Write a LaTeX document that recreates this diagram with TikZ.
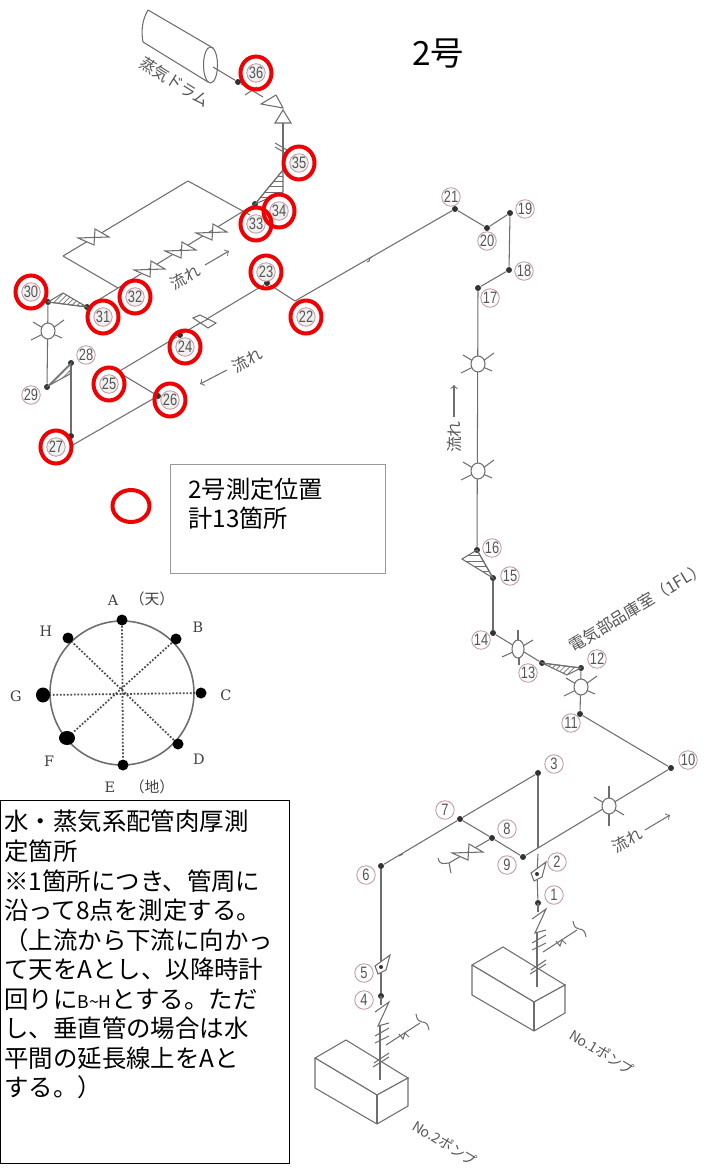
\documentclass[tikz,border=0pt]{standalone}
\usepackage{fontspec}
\setmainfont{Liberation Sans}
\newfontfamily\jpfont{Noto Sans CJK JP}
\newfontfamily\numfont[FakeStretch=0.78]{Liberation Sans}
\newfontfamily\dialfont{DejaVu Serif}
\usetikzlibrary{shapes.geometric,patterns}
\definecolor{pipegray}{HTML}{6E6E6E}
\definecolor{textgray}{HTML}{555555}
\definecolor{numpink}{HTML}{C49AA2}
\definecolor{ringred}{HTML}{F00000}
\tikzset{
  pipe/.style={draw=pipegray, line width=0.6pt},
  pipedot/.style={circle, fill=black!80, inner sep=0pt, minimum size=0.12cm},
  numlabel/.style={circle, draw=numpink, fill=white, line width=0.5pt, inner sep=0pt, minimum size=0.37cm, text=textgray, font=\numfont\fontsize{9.4}{9.4}\selectfont},
  redring/.style={ellipse, draw=ringred, line width=0.08cm, inner sep=0pt, minimum width=0.62cm, minimum height=0.66cm},
  ringnum/.style={numlabel, fill=black!6},
  drawn/.style={text=textgray, font=\jpfont\fontsize{9}{9}\selectfont},
  dialdot/.style={circle, fill=black, inner sep=0pt, minimum size=0.22cm},
  dialtext/.style={text=black!75, font=\dialfont\fontsize{8.2}{8.2}\selectfont},
  xvalve/.pic={\draw[pipe, fill=white] (-16,1) -- (0,8) -- (1,-8) -- (15,0) -- cycle;},
  wheela/.pic={
    \draw[pipe] (-5,-3) -- (-15,-9);
    \draw[pipe] (5,-3) -- (16,-11);
    \draw[pipe] (-5,3) -- (-17,9);
    \draw[pipe] (5,3) -- (14,7);
    \draw[pipe, fill=white] (0,0) ellipse (7 and 8);
  },
  wheelb/.pic={
    \draw[pipe] (0,-5) -- (0,-20);
    \draw[pipe] (-5,-3) -- (-15,-9);
    \draw[pipe] (5,3) -- (15,9);
    \draw[pipe] (0,5) -- (0,20);
    \draw[pipe, fill=white] (0,0) ellipse (7 and 8);
  },
  wheelc/.pic={
    \draw[pipe] (0,-5) -- (0,-19);
    \draw[pipe] (5,-3) -- (15,-9);
    \draw[pipe] (-5,3) -- (-16,8);
    \draw[pipe] (1,5) -- (1,16);
    \draw[pipe, fill=white] (0,0) ellipse (6 and 9);
  },
  kite/.pic={\draw[pipe, fill=white] (-6,-1) -- (9,-12) -- (5,3) -- (-3,7) -- cycle;},
  pumpset/.pic={
    \draw[pipe, fill=white] (-35,44) -- (27,82) -- (-4,99) -- (-66,62) -- cycle;
    \draw[pipe, fill=white] (-66,62) -- (-66,92) -- (-4,128) -- (27,110) -- (27,82) -- (-4,99) -- (-66,62);
    \draw[pipe] (-4,99) -- (-4,128);
    \draw[pipe] (0,0) -- (0,9);
    \draw[pipe] (-6,16) -- (8,6) -- (-3,30) -- (8,27);
    \draw[pipe] (-1,29) -- (-1,84);
    \draw[pipe] (-6,40) -- (8,32);
    \draw[pipe] (-6,47) -- (8,40);
    \draw[pipe] (-7,67) -- (8,57);
    \draw[pipe] (-8,71) -- (8,61);
    \draw[pipe] (5,49) -- (39,27);
    \draw[pipe] (18,38) -- (22,43) -- (24,37) -- (28,41);
    \draw[pipe] (35,18) .. controls (36,24) and (38,26) .. (41,26) .. controls (45,26) and (47,28) .. (48,34);
  },
}
\begin{document}
\begin{tikzpicture}[x=0.02cm, y=-0.02cm]
  \useasboundingbox (0,0) rectangle (704,1168);

  \node[drawn, font=\jpfont\fontsize{19}{19}\selectfont, text=black] (title) at (438,54) {2号};

  \coordinate (drumend) at (213,67);
  \coordinate (bendin) at (263,97);
  \coordinate (bendout) at (283,123);
  \coordinate (c34) at (283,170);
  \coordinate (loopa) at (118,288);
  \coordinate (loopb) at (63,256);
  \coordinate (loopc) at (188,181);
  \coordinate (loopd) at (250,215);
  \coordinate (c25) at (118,372);
  \coordinate (c27) at (71,446);
  \coordinate (c22) at (295,301);
  \coordinate (gapa) at (538,848);
  \coordinate (gapb) at (538,854);
  \coordinate (hookv) at (449,863);

  \node[pipedot] (pt1) at (538,903) {};
  \node[pipedot, minimum size=0.08cm] (pt2) at (537,874) {};
  \node[pipedot] (pt3) at (538,773) {};
  \node[pipedot] (pt4) at (381,996) {};
  \node[pipedot, minimum size=0.08cm] (pt5) at (381,967) {};
  \node[pipedot] (pt6) at (381,866) {};
  \node[pipedot] (pt7) at (460,819) {};
  \node[pipedot] (pt8) at (492,838) {};
  \node[pipedot] (pt9) at (523,857) {};
  \node[pipedot] (pt10) at (671,768) {};
  \node[pipedot] (pt11) at (580,714) {};
  \node[pipedot] (pt12) at (581,668) {};
  \node[pipedot] (pt13) at (542,663) {};
  \node[pipedot] (pt14) at (493,633) {};
  \node[pipedot] (pt15) at (493,578) {};
  \node[pipedot] (pt16) at (477,550) {};
  \node[pipedot] (pt17) at (478,288) {};
  \node[pipedot] (pt18) at (509,270) {};
  \node[pipedot] (pt19) at (510,213) {};
  \node[pipedot] (pt20) at (487,228) {};
  \node[pipedot] (pt21) at (455,209) {};
  \node[pipedot] (pt23) at (267,283) {};
  \node[pipedot] (pt24) at (180,335) {};
  \node[pipedot] (pt26) at (158,396) {};
  \node[pipedot] (pt27) at (71,436) {};
  \node[pipedot] (pt28) at (71,363) {};
  \node[pipedot] (pt29) at (47,387) {};
  \node[pipedot] (pt30) at (48,302) {};
  \node[pipedot] (pt31) at (87,307) {};
  \node[pipedot] (pt33) at (255,204) {};
  \node[pipedot] (pt36) at (238,82) {};

  \draw[pipe] (pt4) -- (pt5);
  \draw[pipe] (pt5) -- (pt6);
  \draw[pipe] (pt6) -- (pt7);
  \draw[pipe] (pt7) -- (pt3);
  \draw[pipe] (pt7) -- (pt8);
  \draw[pipe] (pt8) -- (pt9);
  \draw[pipe] (pt3) -- (gapa);
  \draw[pipe] (gapb) -- (pt2);
  \draw[pipe] (pt2) -- (pt1);
  \draw[pipe] (pt9) -- (pt10);
  \draw[pipe] (pt10) -- (pt11);
  \draw[pipe] (pt11) -- (pt12);
  \draw[pipe] (pt12) -- (pt13);
  \draw[pipe] (pt13) -- (pt14);
  \draw[pipe] (pt14) -- (pt15);
  \draw[pipe] (pt15) -- (pt16);
  \draw[pipe] (pt16) -- (pt17);
  \draw[pipe] (pt17) -- (pt18);
  \draw[pipe] (pt18) -- (pt19);
  \draw[pipe] (pt19) -- (pt20);
  \draw[pipe] (pt20) -- (pt21);
  \draw[pipe] (pt21) -- (c22);
  \draw[pipe] (c22) -- (pt23);
  \draw[pipe] (pt23) -- (pt24);
  \draw[pipe] (pt24) -- (c25);
  \draw[pipe] (c25) -- (pt26);
  \draw[pipe] (pt26) -- (c27);
  \draw[pipe] (c27) -- (pt27);
  \draw[pipe] (pt27) -- (pt28);
  \draw[pipe] (pt28) -- (pt29);
  \draw[pipe] (pt29) -- (pt30);
  \draw[pipe] (pt30) -- (pt31);
  \draw[pipe] (pt31) -- (loopa);
  \draw[pipe] (loopa) -- (pt33);
  \draw[pipe] (loopa) -- (loopb);
  \draw[pipe] (loopb) -- (loopc);
  \draw[pipe] (loopc) -- (loopd);
  \draw[pipe] (pt33) -- (c34);
  \draw[pipe] (c34) -- (bendout);
  \draw[pipe] (drumend) -- (pt36);
  \draw[pipe] (pt36) -- (bendin);
  \draw[pipe] (pt8) -- (hookv);
  \draw[pipe] (438,858) .. controls (440,866) and (444,863) .. (hookv);
  \draw[pipe] (hookv) .. controls (450,866) and (450,870) .. (451,873);

  \draw[pipe, pattern=horizontal lines, pattern color=pipegray] (493,578) -- (462,559) -- (477,550) -- cycle;
  \draw[pipe, pattern=north east lines, pattern color=pipegray] (542,663) -- (581,668) -- (567,675) -- cycle;
  \draw[pipe, pattern=north east lines, pattern color=pipegray] (48,302) -- (63,293) -- (87,307) -- cycle;
  \draw[pipe, pattern=north east lines, pattern color=pipegray] (48,386) -- (71,363) -- (70,374) -- cycle;
  \draw[pipe, pattern=horizontal lines, pattern color=pipegray] (255,204) -- (c34) -- (283,192) -- cycle;

  \draw[pipe, fill=white] (148,10) -- (213,48) -- (208,82) -- (143,42) .. controls (141,32) and (142,20) .. (148,10);
  \draw[pipe, fill=white] (210.5,65) ellipse (7 and 18);
  \draw[pipe] (drumend) -- (218,70);
  \draw[pipe, fill=white] (261,104) -- (276,95) -- (283,108) -- cycle;
  \draw[pipe, fill=white] (283,110) -- (275,123) -- (291,123) -- cycle;
  \draw[pipe] (245,95) -- (257,87);
  \draw[pipe] (275,143) -- (287,150);
  \draw[pipe] (275,147) -- (287,154);
  \draw[pipe, fill=white] (193,318) -- (200,315) -- (216,323) -- (208,328) -- cycle;
  \draw[pipe] (208,319) -- (200.5,323);
  \draw[pipe] (367,262) .. controls (372,261) and (367,258) .. (372,257);
  \draw[pipe] (399,856) -- (403,854);

  \pic at (94,237) {xvalve};
  \pic at (150,269) {xvalve};
  \pic at (181,250) {xvalve};
  \pic at (212,232) {xvalve};
  \pic at (468,852) {xvalve};
  \pic at (48,331) {wheela};
  \pic at (478,364) {wheela};
  \pic at (478,471) {wheela};
  \pic at (581,687) {wheela};
  \pic at (518,649) {wheelc};
  \pic at (609,806) {wheelb};
  \pic at (pt2) {kite};
  \pic at (pt5) {kite};
  \pic at (pt1) {pumpset};
  \pic at (pt4) {pumpset};
  \node[pipedot, minimum size=0.08cm] at (pt2) {};
  \node[pipedot, minimum size=0.08cm] at (pt5) {};

  \node[drawn, rotate=-32] (drumname) at (175,82) {蒸気ドラム};
  \node[drawn, rotate=30] (flowa) at (185,277) {流れ};
  \node[drawn, rotate=30] (flowb) at (247,360) {流れ};
  \node[drawn, rotate=90] (flowc) at (454,437) {流れ};
  \node[drawn, rotate=30] (flowd) at (627,840) {流れ};
  \coordinate (tipa) at (229,251);
  \coordinate (tipb) at (200,384);
  \coordinate (tipc) at (454,385);
  \coordinate (tipd) at (670,815);
  \draw[pipe, ->] (flowa) ++(20,-12) -- (tipa);
  \draw[pipe, ->] (flowb) ++(-20,10) -- (tipb);
  \draw[pipe, ->] (flowc) ++(0,-20) -- (tipc);
  \draw[pipe, ->] (flowd) ++(18,-10) -- (tipd);
  \node[drawn, rotate=31, font=\jpfont\fontsize{9.2}{9.2}\selectfont] (roomname) at (637,607) {電気部品庫室（1FL）};
  \node[drawn, rotate=-31, font=\jpfont\fontsize{8}{8}\selectfont] (pumpa) at (602,1052) {No.1ポンプ};
  \node[drawn, rotate=-31, font=\jpfont\fontsize{8}{8}\selectfont] (pumpb) at (445,1143) {No.2ポンプ};

  \node[numlabel] (num1) at (554,895) {1};
  \node[numlabel] (num2) at (557,862) {2};
  \node[numlabel] (num3) at (554,764) {3};
  \node[numlabel] (num4) at (364,1000) {4};
  \node[numlabel] (num5) at (364,973) {5};
  \node[numlabel] (num6) at (366,875) {6};
  \node[numlabel] (num7) at (445,810) {7};
  \node[numlabel] (num8) at (507,829) {8};
  \node[numlabel] (num9) at (507,865) {9};
  \node[numlabel] (num10) at (688,760) {10};
  \node[numlabel] (num11) at (571,723) {11};
  \node[numlabel] (num12) at (597,659) {12};
  \node[numlabel] (num13) at (528,673) {13};
  \node[numlabel] (num14) at (481,640) {14};
  \node[numlabel] (num15) at (510,576) {15};
  \node[numlabel] (num16) at (492,548) {16};
  \node[numlabel] (num17) at (490,298) {17};
  \node[numlabel] (num18) at (524,271) {18};
  \node[numlabel] (num19) at (525,209) {19};
  \node[numlabel] (num20) at (487,241) {20};
  \node[numlabel] (num21) at (451,197) {21};
  \node[numlabel] (num28) at (86,355) {28};
  \node[numlabel] (num29) at (31,395) {29};

  \node[ringnum] (num22) at (306,317) {22};
  \node[ringnum] (num23) at (266,272) {23};
  \node[ringnum] (num24) at (185,347) {24};
  \node[ringnum] (num25) at (109,384) {25};
  \node[ringnum] (num26) at (170,400) {26};
  \node[ringnum] (num27) at (56,447) {27};
  \node[ringnum] (num30) at (31,292) {30};
  \node[ringnum] (num31) at (103,317) {31};
  \node[ringnum] (num32) at (135,297) {32};
  \node[ringnum] (num33) at (256,224) {33};
  \node[ringnum] (num34) at (279,211) {34};
  \node[ringnum] (num35) at (299,163) {35};
  \node[ringnum] (num36) at (256,73) {36};

  \node[redring] at (num22) {};
  \node[redring] at (num23) {};
  \node[redring] at (num24) {};
  \node[redring] at (num25) {};
  \node[redring] at (num26) {};
  \node[redring] at (num27) {};
  \node[redring] at (num30) {};
  \node[redring] at (num31) {};
  \node[redring] at (num32) {};
  \node[redring] at (num33) {};
  \node[redring] at (num34) {};
  \node[redring] at (num35) {};
  \node[redring] at (num36) {};

  \node[redring, minimum width=0.74cm, minimum height=0.64cm] (legendring) at (131,506) {};
  \node[rectangle, draw=black!40, line width=0.5pt, minimum width=4.3cm, minimum height=2.18cm] (legendbox) at (277.5,518.5) {};
  \node[anchor=north west, inner sep=0pt, align=left, font=\jpfont\fontsize{13.8}{16.5}\selectfont] (legendtext) at (188,478) {2号測定位置\\計13箇所};

  \node[circle, draw=pipegray, line width=0.9pt, inner sep=0pt, minimum size=2.88cm] (hub) at (122,693) {};
  \node[dialdot] (dotA) at (122,620) {};
  \node[dialdot] (dotB) at (176,639) {};
  \node[dialdot] (dotC) at (201,693) {};
  \node[dialdot] (dotD) at (178,744) {};
  \node[dialdot] (dotE) at (123,765) {};
  \node[ellipse, fill=black, inner sep=0pt, minimum width=0.32cm, minimum height=0.28cm] (dotF) at (67,738) {};
  \node[ellipse, fill=black, inner sep=0pt, minimum width=0.28cm, minimum height=0.3cm] (dotG) at (43,695) {};
  \node[dialdot] (dotH) at (68,638) {};
  \draw[black!70, line width=1pt, densely dotted] (dotA) -- (dotE);
  \draw[black!70, line width=1pt, densely dotted] (dotB) -- (dotF);
  \draw[black!70, line width=1pt, densely dotted] (dotC) -- (dotG);
  \draw[black!70, line width=1pt, densely dotted] (dotD) -- (dotH);
  \node[dialtext] (nameA) at (113,600) {A};
  \node[dialtext, font=\jpfont\fontsize{8.4}{8.4}\selectfont] (nameup) at (152,599) {（天）};
  \node[dialtext] (nameB) at (198,627) {B};
  \node[dialtext] (nameC) at (226,695) {C};
  \node[dialtext] (nameD) at (199,759) {D};
  \node[dialtext] (nameE) at (110,787) {E};
  \node[dialtext, font=\jpfont\fontsize{8.4}{8.4}\selectfont] (namedown) at (152,787) {（地）};
  \node[dialtext] (nameF) at (49,761) {F};
  \node[dialtext] (nameG) at (16,696) {G};
  \node[dialtext] (nameH) at (46,631) {H};

  \node[rectangle, draw=black, line width=0.7pt, anchor=north west, minimum width=5.78cm, minimum height=7.27cm] (notebox) at (0,799.5) {};
  \node[anchor=north west, inner sep=0pt, align=left, font=\jpfont\fontsize{13.9}{16.8}\selectfont] (notetext) at (4,810) {水・蒸気系配管肉厚測\\定箇所\\※1箇所につき、管周に\\沿って8点を測定する。\\（上流から下流に向かっ\\て天をAとし、以降時計\\回りに{\fontsize{10}{10}\selectfont B\textasciitilde H}とする。ただ\\し、垂直管の場合は水\\平間の延長線上をAと\\する。）};
\end{tikzpicture}
\end{document}
